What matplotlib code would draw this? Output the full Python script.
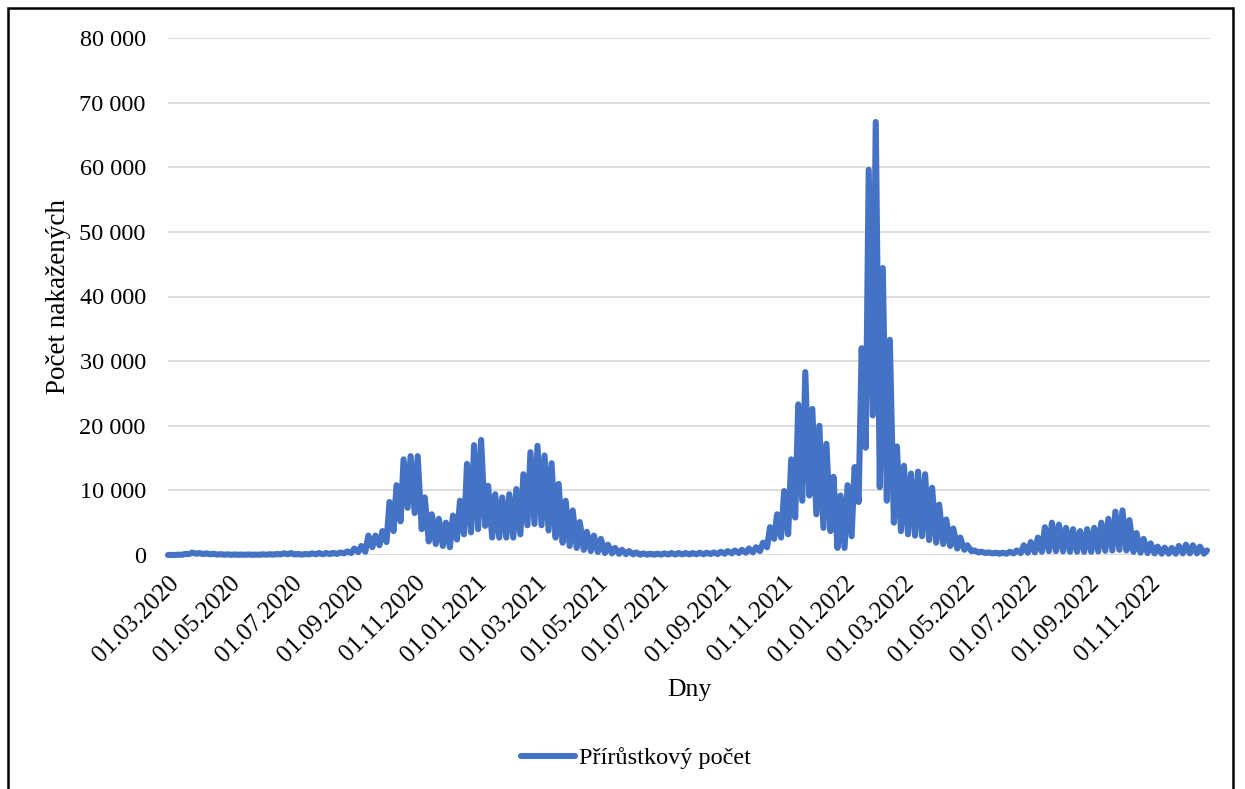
import matplotlib
matplotlib.use("Agg")
import matplotlib.pyplot as plt
from matplotlib.ticker import FuncFormatter
from matplotlib.transforms import ScaledTranslation
from matplotlib.patches import Rectangle
import pandas as pd

# ---- data: weekly low (Sunday) and weekly high (Wednesday) daily increments ----
first_week = "2020-03-01"

weekly_low = [
    0, 10, 40, 150, 200, 150, 100, 60, 50, 30,
    30, 30, 30, 40, 50, 60, 100, 120, 80, 60,
    100, 120, 120, 150, 170, 250, 300, 450, 500, 1200,
    1500, 2000, 3700, 5200, 7300, 6500, 4000, 2100, 1700, 1400,
    1200, 2400, 3200, 3500, 4000, 4500, 2700, 2700, 2700, 2700,
    3200, 4600, 4800, 4600, 3800, 2700, 1900, 1400, 1100, 800,
    600, 450, 300, 250, 180, 130, 100, 50, 50, 50,
    60, 80, 80, 100, 100, 120, 120, 150, 150, 200,
    250, 300, 350, 400, 600, 1200, 2500, 2700, 3200, 5800,
    8400, 9200, 6300, 4200, 3700, 1100, 1100, 2900, 8200, 16600,
    21600, 10500, 8400, 5000, 3700, 3200, 3000, 2900, 2300, 1900,
    1700, 1400, 1000, 800, 600, 400, 300, 250, 200, 200,
    250, 300, 350, 400, 500, 600, 600, 550, 500, 500,
    500, 500, 550, 650, 700, 800, 700, 500, 350, 300,
    250, 200, 200, 200, 250, 250, 250, 200,
]

weekly_high = [
    5, 40, 150, 370, 300, 250, 200, 130, 100, 80,
    70, 80, 60, 100, 120, 150, 260, 300, 160, 150,
    250, 300, 300, 320, 380, 550, 1000, 1400, 3000, 3000,
    3700, 8200, 10800, 14800, 15300, 15300, 8900, 6300, 5600, 5000,
    6100, 8400, 14100, 17000, 17800, 10700, 9400, 8900, 9400, 10200,
    12500, 15900, 16900, 15400, 14200, 11000, 8400, 6900, 5100, 3600,
    3000, 2500, 1600, 1100, 800, 600, 400, 250, 200, 200,
    250, 300, 300, 300, 300, 350, 350, 400, 500, 600,
    700, 800, 1000, 1200, 1900, 4300, 6300, 9900, 14800, 23300,
    28300, 22600, 20000, 17200, 12100, 9200, 10800, 13600, 32000, 59600,
    67000, 44400, 33300, 16800, 13800, 12600, 12900, 12500, 10400, 7800,
    5500, 4100, 2700, 1500, 700, 500, 400, 350, 350, 500,
    700, 1500, 2000, 2700, 4300, 5000, 4700, 4200, 4000, 3700,
    4000, 4200, 5000, 5600, 6700, 6900, 5400, 3400, 2500, 1800,
    1300, 1150, 1100, 1400, 1600, 1500, 1300, 700,
]

tick_labels = [
    "01.03.2020", "01.05.2020", "01.07.2020", "01.09.2020", "01.11.2020",
    "01.01.2021", "01.03.2021", "01.05.2021", "01.07.2021", "01.09.2021",
    "01.11.2021", "01.01.2022", "01.03.2022", "01.05.2022", "01.07.2022",
    "01.09.2022", "01.11.2022",
]
y_ticks = [0, 10000, 20000, 30000, 40000, 50000, 60000, 70000, 80000]
x_start, x_end = "2020-03-01", "2022-12-31"

series_name = "Přírůstkový počet"
x_title = "Dny"
y_title = "Počet nakažených"

# ---- build series ----
weeks = pd.date_range(first_week, periods=len(weekly_high), freq="7D")
dates, values = [], []
for wk, lo, hi in zip(weeks, weekly_low, weekly_high):
    dates.append(wk)
    values.append(lo)
    dates.append(wk + pd.Timedelta(days=3))
    values.append(hi)

plt.rcParams["font.family"] = ["Liberation Serif", "DejaVu Serif"]
BLUE = "#4472C4"

fig = plt.figure(figsize=(12.45, 7.89), dpi=100)
W, H = 1245, 789
ax = fig.add_axes([168 / W, 1 - 555 / H, (1210 - 168) / W, (555 - 38) / H])

line, = ax.plot(dates, values, color=BLUE, lw=4.4, solid_joinstyle="round",
                solid_capstyle="round", clip_on=False, zorder=3, label=series_name)

ax.set_xlim(pd.Timestamp(x_start), pd.Timestamp(x_end))
ax.set_ylim(0, 80000)
ax.set_yticks(y_ticks)
ax.yaxis.set_major_formatter(FuncFormatter(lambda v, p: f"{int(v):,}".replace(",", " ")))

tick_dates = [pd.to_datetime(t, format="%d.%m.%Y") for t in tick_labels]
ax.set_xticks(tick_dates)
ax.set_xticklabels(tick_labels, rotation=45, ha="right", va="top",
                   rotation_mode="anchor", fontsize=17.8)
offset = ScaledTranslation(2 / 100, 0, fig.dpi_scale_trans)
for lbl in ax.get_xticklabels():
    lbl.set_transform(lbl.get_transform() + offset)

ax.tick_params(axis="x", length=0, pad=12, colors="black")
ax.tick_params(axis="y", length=0, pad=16, labelsize=17.5, colors="black")

for s in ax.spines.values():
    s.set_visible(False)
ax.grid(axis="y", color="#D9D9D9", lw=1.3)
ax.grid(axis="x", visible=False)
ax.set_axisbelow(True)

ax.set_ylabel(y_title, fontsize=19.5)
ax.yaxis.label.set_va("center")
ax.yaxis.set_label_coords((59 - 168) / (1210 - 168), 0.5)
ax.set_xlabel(x_title, fontsize=18.5)
ax.xaxis.label.set_va("center")
ax.xaxis.set_label_coords(0.5, (555 - 690) / (555 - 38))

fig.legend(handles=[line], labels=[series_name], loc="center",
           bbox_to_anchor=(636 / W, 1 - 758 / H), frameon=False, fontsize=17.5,
           handlelength=2.2, handletextpad=0.15)

# outer frame
fig.patches.append(Rectangle((8 / W, -0.05), (1233 - 8) / W, (1 - 8 / H) + 0.05,
                             transform=fig.transFigure, fill=False,
                             edgecolor="black", lw=1.8))

fig.savefig("out.png", dpi=100)
